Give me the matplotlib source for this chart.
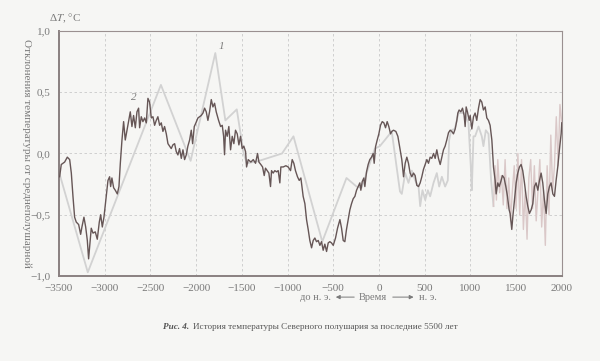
import matplotlib
matplotlib.use('Agg')
import matplotlib.pyplot as plt
from matplotlib.ticker import FuncFormatter, MultipleLocator

# curve 1: coarse reconstruction (light gray)
years1 = [-3500, -3185, -2385, -2060, -1790, -1680, -1555, -1480, -1445, -1310, -1060, -935,
          -620, -355, -245, -190, -45, 10, 65, 140, 230, 250, 287, 323, 360, 396, 433, 451,
          476, 506, 535, 560, 597, 633, 659, 688, 724, 753, 768, 790, 830, 870, 930, 979,
          1005, 1016, 1034, 1052, 1089, 1125, 1143, 1169, 1198, 1227, 1253]
temp1 = [-0.15, -0.97, 0.56, -0.06, 0.82, 0.27, 0.36, 0.0, -0.08, -0.06, 0.0, 0.14,
         -0.72, -0.20, -0.27, -0.28, 0.04, 0.06, 0.11, 0.18, -0.31, -0.33, -0.16, -0.24, -0.14, -0.22, -0.27, -0.43,
         -0.30, -0.38, -0.30, -0.35, -0.24, -0.16, -0.27, -0.19, -0.27, -0.22, 0.11, 0.19, 0.2, 0.33, 0.33, 0.25,
         -0.11, -0.30, 0.14, 0.14, 0.22, 0.14, 0.06, 0.19, 0.16, -0.22, -0.43]

# curve 1, last centuries (noisy, pinkish)
years1b = [1253, 1270, 1285, 1300, 1320, 1340, 1360, 1380, 1400, 1420, 1440, 1460, 1480, 1500,
           1520, 1540, 1560, 1580, 1600, 1620, 1640, 1660, 1680, 1700, 1720, 1740, 1760, 1780,
           1800, 1820, 1840, 1860, 1880, 1900, 1920, 1940, 1960, 1980, 2000]
temp1b = [-0.43, -0.10, -0.38, -0.05, -0.32, -0.18, -0.42, -0.05, -0.45, -0.20, -0.55, -0.30, -0.10, -0.45,
          0.0, -0.50, -0.05, -0.62, -0.30, -0.70, -0.20, -0.05, -0.45, -0.10, -0.55, -0.30, -0.05,
          -0.60, -0.30, -0.75, -0.10, -0.50, 0.15, -0.30, -0.10, 0.30, -0.10, 0.40, 0.25]

# curve 2: detailed reconstruction (dark)
years2 = [-3493, -3475, -3438, -3409, -3383, -3365, -3347, -3329, -3311, -3285, -3263, -3249, -3227,
          -3208, -3190, -3176, -3161, -3147, -3128, -3103, -3081, -3059, -3044, -3026, -3008, -2983,
          -2964, -2946, -2935, -2921, -2902, -2884, -2862, -2844, -2829, -2811, -2793, -2775, -2756,
          -2738, -2720, -2702, -2684, -2665, -2647, -2629, -2618, -2600, -2582, -2563, -2545, -2527,
          -2509, -2490, -2472, -2454, -2436, -2418, -2399, -2381, -2363, -2345, -2326, -2308, -2290,
          -2272, -2254, -2235, -2217, -2199, -2181, -2162, -2144, -2126, -2108, -2090, -2071, -2053,
          -2038, -2020, -2002, -1980, -1962, -1944, -1925, -1907, -1889, -1871, -1853, -1834, -1816,
          -1798, -1780, -1754, -1732, -1714, -1699, -1689, -1678, -1660, -1642, -1623, -1605, -1587,
          -1569, -1550, -1532, -1514, -1496, -1478, -1459, -1448, -1430, -1401, -1375, -1350, -1328,
          -1313, -1292, -1273, -1255, -1241, -1222, -1204, -1186, -1175, -1157, -1139, -1120, -1102,
          -1084, -1073, -1047, -1018, -993, -967, -949, -931, -913, -891, -872, -854, -829, -810,
          -792, -774, -756, -737, -719, -701, -683, -664, -646, -628, -610, -592, -573, -555, -537,
          -519, -500, -475, -453, -427, -409, -391, -373, -355, -336, -318, -300, -282, -263, -245,
          -227, -209, -198, -183, -165, -154, -136, -118, -100, -81, -63, -52, -37, -19, -1, 17,
          36, 54, 72, 90, 108, 127, 141, 159, 185, 207, 232, 250, 269, 287, 305, 323, 341, 360, 378,
          396, 414, 433, 451, 469, 487, 506, 524, 542, 560, 578, 597, 615, 633, 651, 670, 688, 706,
          724, 742, 761, 779, 797, 815, 834, 852, 863, 877, 896, 914, 932, 943, 954, 968, 987, 998,
          1016, 1034, 1052, 1070, 1089, 1107, 1125, 1143, 1162, 1180, 1198, 1216, 1235, 1253, 1271,
          1282, 1300, 1315, 1333, 1351, 1369, 1388, 1406, 1424, 1435, 1453, 1464, 1482, 1501, 1519,
          1537, 1555, 1573, 1592, 1610, 1628, 1646, 1665, 1683, 1701, 1719, 1738, 1756, 1774, 1792,
          1810, 1829, 1847, 1865, 1883, 1902, 1920, 1938, 1956, 1974, 1993, 2000]
temp2 = [-0.19, -0.09, -0.07, -0.03, -0.05, -0.16, -0.35, -0.52, -0.56, -0.58, -0.66, -0.60, -0.52,
         -0.60, -0.71, -0.86, -0.73, -0.61, -0.65, -0.64, -0.70, -0.56, -0.50, -0.60, -0.52, -0.35,
         -0.22, -0.19, -0.27, -0.20, -0.28, -0.30, -0.33, -0.27, -0.08, 0.11, 0.26, 0.11, 0.19,
         0.27, 0.34, 0.22, 0.31, 0.21, 0.34, 0.37, 0.21, 0.30, 0.26, 0.29, 0.25, 0.45,
         0.42, 0.29, 0.30, 0.23, 0.27, 0.30, 0.23, 0.25, 0.18, 0.22, 0.16, 0.08, 0.06,
         0.04, 0.07, 0.08, 0.015, -0.012, 0.04, -0.04, 0.03, -0.05, -0.012, 0.06, 0.11, 0.19,
         0.08, 0.22, 0.25, 0.29, 0.30, 0.31, 0.33, 0.37, 0.34, 0.27, 0.34, 0.44, 0.38,
         0.41, 0.34, 0.27, 0.22, 0.23, 0.14, -0.01, 0.19, 0.14, 0.22, 0.03, 0.14, 0.08,
         0.19, 0.16, 0.07, 0.14, 0.04, 0.06, 0.015, -0.11, -0.05, -0.07, -0.05, -0.08, 0.0,
         -0.07, -0.09, -0.11, -0.18, -0.12, -0.14, -0.16, -0.27, -0.14, -0.16, -0.14, -0.15, -0.14,
         -0.24, -0.11, -0.11, -0.10, -0.11, -0.14, -0.05, -0.08, -0.14, -0.19, -0.22, -0.20, -0.35, -0.41,
         -0.54, -0.62, -0.71, -0.77, -0.71, -0.69, -0.72, -0.71, -0.75, -0.72, -0.79, -0.74, -0.80, -0.73, -0.72,
         -0.73, -0.75, -0.69, -0.61, -0.54, -0.61, -0.71, -0.72, -0.62, -0.54, -0.46, -0.41, -0.37, -0.35, -0.30,
         -0.27, -0.24, -0.30, -0.23, -0.20, -0.27, -0.15, -0.09, -0.05, -0.03, 0.0, -0.08, 0.056, 0.11, 0.16, 0.23,
         0.26, 0.25, 0.21, 0.26, 0.22, 0.16, 0.18, 0.19, 0.18, 0.14, 0.03, -0.05, -0.19, -0.08, -0.03, -0.08, -0.16, -0.19, -0.16,
         -0.18, -0.26, -0.27, -0.24, -0.19, -0.13, -0.09, -0.05, -0.08, -0.03, -0.04, 0.0, -0.04, 0.03, -0.04, -0.09, -0.03, 0.03,
         0.06, 0.11, 0.17, 0.19, 0.18, 0.16, 0.20, 0.27, 0.33, 0.355, 0.34, 0.37, 0.31, 0.22, 0.38, 0.34, 0.27, 0.31,
         0.20, 0.30, 0.33, 0.27, 0.37, 0.44, 0.42, 0.355, 0.38, 0.29, 0.27, 0.23, 0.11, -0.11, -0.22,
         -0.33, -0.24, -0.27, -0.23, -0.18, -0.20, -0.27, -0.35, -0.46, -0.49, -0.62, -0.52, -0.38, -0.24, -0.16,
         -0.11, -0.09, -0.14, -0.24, -0.35, -0.43, -0.49, -0.46, -0.41, -0.27, -0.24, -0.30, -0.22, -0.16, -0.24,
         -0.38, -0.49, -0.33, -0.27, -0.24, -0.33, -0.35, -0.22, -0.11, 0.03, 0.16, 0.25]

plt.rcParams['font.family'] = ['Liberation Serif', 'DejaVu Serif']
plt.rcParams['mathtext.fontset'] = 'stix'

text_color = '#7a7a7a'
fig = plt.figure(figsize=(6, 3.61), dpi=100, facecolor='#f6f6f4')
ax = fig.add_axes([0.0983, 0.2355, 0.838, 0.6787])
ax.set_facecolor('#f6f6f4')

ax.plot(years1, temp1, color='#d2d2d2', lw=1.3, zorder=2)
ax.plot(years1b, temp1b, color='#dac8c8', lw=1.0, zorder=2)
ax.plot(years2, temp2, color='#665656', lw=1.0, zorder=3)

ax.set_xlim(-3500, 2000)
ax.set_ylim(-1.0, 1.0)
ax.xaxis.set_major_locator(MultipleLocator(500))
ax.yaxis.set_major_locator(MultipleLocator(0.5))
ax.xaxis.set_major_formatter(FuncFormatter(lambda v, p: f'{v:.0f}'.replace('-', '\u2212')))
ax.yaxis.set_major_formatter(FuncFormatter(lambda v, p: f'{v:.1f}'.replace('.', ',').replace('-', '\u2212')))
ax.tick_params(length=0, labelsize=8, labelcolor=text_color, pad=6)
ax.grid(True, color='#c9c9c9', lw=0.6, ls=(0, (3, 3)))

for side in ['left', 'bottom']:
    ax.spines[side].set_color('#8a8080')
    ax.spines[side].set_linewidth(1.4)
for side in ['top', 'right']:
    ax.spines[side].set_color('#9a9090')
    ax.spines[side].set_linewidth(0.8)

ax.text(-1718, 0.87, '1', fontsize=8, style='italic', color=text_color, ha='center', va='center')
ax.text(-2680, 0.46, '2', fontsize=8, style='italic', color=text_color, ha='center', va='center')

fig.text(0.082, 0.95, r'Δ$T$, °C', fontsize=8, color=text_color, ha='left', va='center')
fig.text(0.045, 0.575, 'Отклонения температуры от среднеполушарной', fontsize=8, color=text_color,
         rotation=270, ha='center', va='center')

# time direction line under the axis
fig.text(0.552, 0.177, 'до н. э.', fontsize=7.5, color=text_color, ha='right', va='center')
fig.text(0.622, 0.177, 'Время', fontsize=7.5, color=text_color, ha='center', va='center')
fig.text(0.698, 0.177, 'н. э.', fontsize=7.5, color=text_color, ha='left', va='center')
fig.add_artist(matplotlib.patches.FancyArrowPatch((0.595, 0.177), (0.555, 0.177), transform=fig.transFigure,
               arrowstyle='-|>', mutation_scale=6, color=text_color, lw=0.7))
fig.add_artist(matplotlib.patches.FancyArrowPatch((0.650, 0.177), (0.694, 0.177), transform=fig.transFigure,
               arrowstyle='-|>', mutation_scale=6, color=text_color, lw=0.7))

# caption
fig.text(0.272, 0.095, 'Рис. 4.', fontsize=6.6, color='#555555', ha='left', va='center',
         style='italic', weight='bold')
fig.text(0.322, 0.095, 'История температуры Северного полушария за последние 5500 лет', fontsize=6.6,
         color='#555555', ha='left', va='center')

fig.savefig('out.png', dpi=100, facecolor=fig.get_facecolor())
